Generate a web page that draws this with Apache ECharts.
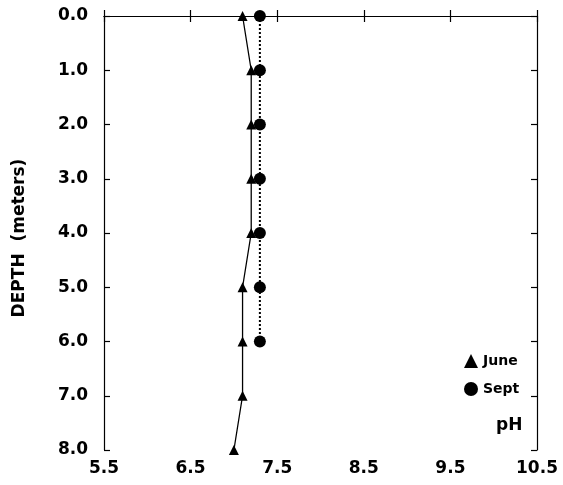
<!DOCTYPE html>
<html><head><meta charset="utf-8">
<script src="https://cdn.jsdelivr.net/npm/echarts@6/dist/echarts.min.js"></script>
<style>html,body{margin:0;padding:0;background:#fff}#c{width:563px;height:485px}</style>
</head><body><div id="c"></div>
<script>
const juneDepth = [0, 1, 2, 3, 4, 5, 6, 7, 8];
const junePH    = [7.1, 7.2, 7.2, 7.2, 7.2, 7.1, 7.1, 7.1, 7.0];
const septDepth = [0, 1, 2, 3, 4, 5, 6];
const septPH    = [7.3, 7.3, 7.3, 7.3, 7.3, 7.3, 7.3];
const xTicks = [5.5, 6.5, 7.5, 8.5, 9.5, 10.5];
const yTicks = [0, 1, 2, 3, 4, 5, 6, 7, 8];

const FONT = '"DejaVu Sans", sans-serif';
const chart = echarts.init(document.getElementById('c'));
const axisLine = {show: true, lineStyle: {color: '#000', width: 1.2}};
const tickIn = {show: true, inside: true, length: 6, lineStyle: {color: '#000', width: 1.2}};
chart.setOption({
  animation: false,
  backgroundColor: '#fff',
  grid: {left: 104, right: 26, top: 16, bottom: 35, containLabel: false, outerBoundsMode: 'none'},
  xAxis: [{
    type: 'value', min: xTicks[0], max: xTicks[xTicks.length - 1], interval: 1,
    axisLine, axisTick: tickIn, splitLine: {show: false},
    axisLabel: {color: '#000', fontFamily: FONT, fontWeight: 'bold', fontSize: 17, margin: 10,
      formatter: v => v.toFixed(1)}
  }, {
    type: 'value', position: 'top', min: xTicks[0], max: xTicks[xTicks.length - 1], interval: 1,
    axisLine, axisTick: tickIn, splitLine: {show: false}, axisLabel: {show: false}
  }],
  yAxis: [{
    type: 'value', inverse: true, min: yTicks[0], max: yTicks[yTicks.length - 1], interval: 1,
    axisLine, axisTick: tickIn, splitLine: {show: false},
    axisLabel: {color: '#000', fontFamily: FONT, fontWeight: 'bold', fontSize: 17, margin: 16,
      formatter: v => v.toFixed(1)}
  }, {
    type: 'value', position: 'right', inverse: true, min: yTicks[0], max: yTicks[yTicks.length - 1], interval: 1,
    axisLine, axisTick: tickIn, splitLine: {show: false}, axisLabel: {show: false}
  }],
  legend: {
    orient: 'vertical', left: 459, top: 349, itemGap: 14, itemWidth: 14, itemHeight: 14,
    textStyle: {color: '#000', fontFamily: FONT, fontWeight: 'bold', fontSize: 14},
    data: [{name: 'June', icon: 'triangle'}, {name: 'Sept', icon: 'circle'}]
  },
  graphic: [{
    type: 'text', left: 496, top: 417,
    style: {text: 'pH', fill: '#000', font: 'bold 17px ' + FONT}
  }, {
    type: 'text', x: 20, y: 238, rotation: Math.PI / 2,
    style: {text: 'DEPTH  (meters)', fill: '#000', font: 'bold 17px ' + FONT,
      align: 'center', verticalAlign: 'middle'}
  }],
  series: [{
    name: 'June', type: 'line', symbol: 'triangle', symbolSize: 10,
    itemStyle: {color: '#000'}, lineStyle: {color: '#000', width: 1.3},
    data: juneDepth.map((d, i) => [junePH[i], d])
  }, {
    name: 'Sept', type: 'line', symbol: 'circle', symbolSize: 12,
    itemStyle: {color: '#000'}, lineStyle: {color: '#000', width: 2, type: [2, 2]},
    data: septDepth.map((d, i) => [septPH[i], d])
  }]
});
</script></body></html>
